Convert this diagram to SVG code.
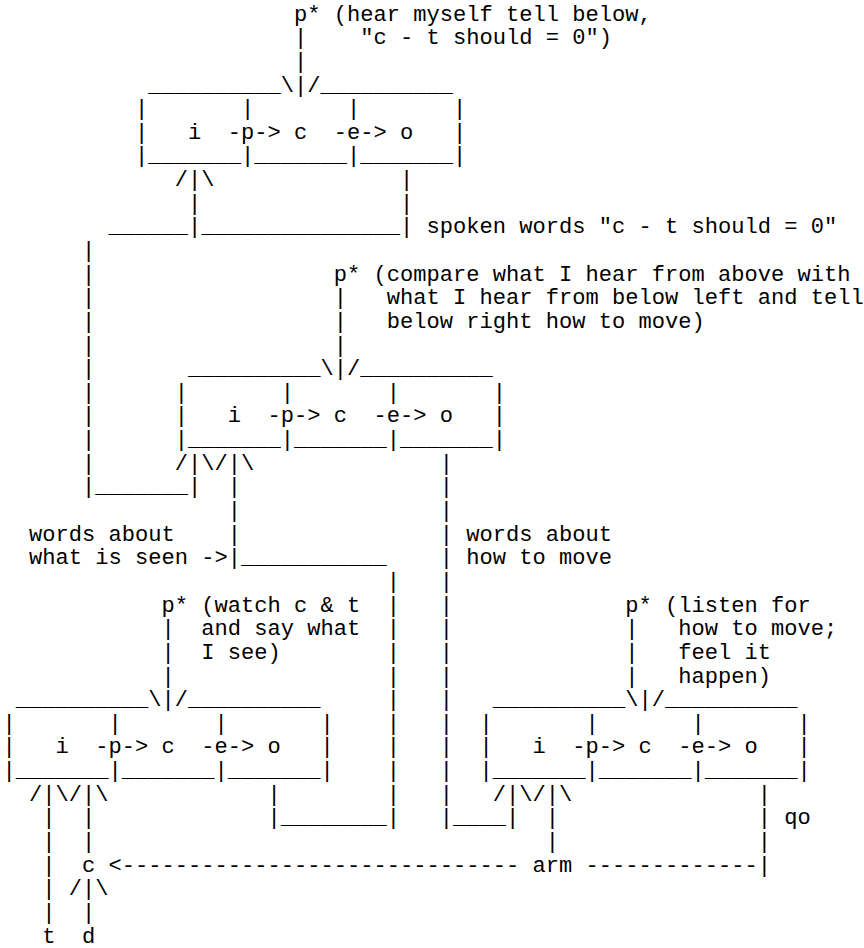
<svg xmlns="http://www.w3.org/2000/svg" width="864" height="948" viewBox="0 0 864 948" xml:space="preserve">
<style>
text { font-family: "Liberation Mono", "DejaVu Sans Mono", monospace; font-size: 22.08px; fill: #000; white-space: pre; }
</style>
<rect width="864" height="948" fill="#fff"/>
<g id="connectors">
<text x="294.1" y="44.24">|</text>
<text x="294.1" y="67.88">|</text>
<text x="280.85" y="91.52">\|/</text>
<text x="174.85" y="186.08">/|\</text><text x="400.1" y="186.08">|</text>
<text x="188.1" y="209.72">|</text><text x="400.1" y="209.72">|</text>
<text x="108.6" y="233.36">______|_______________|</text>
<text x="82.1" y="257">|</text>
<text x="82.1" y="280.64">|</text>
<text x="82.1" y="304.28">|</text><text x="333.85" y="304.28">|</text>
<text x="82.1" y="327.92">|</text><text x="333.85" y="327.92">|</text>
<text x="82.1" y="351.56">|</text><text x="333.85" y="351.56">|</text>
<text x="82.1" y="375.2">|</text><text x="320.6" y="375.2">\|/</text>
<text x="82.1" y="398.84">|</text>
<text x="82.1" y="422.48">|</text>
<text x="82.1" y="446.12">|</text>
<text x="82.1" y="469.76">|</text><text x="174.85" y="469.76">/|\/|\</text><text x="439.85" y="469.76">|</text>
<text x="82.1" y="493.4">|_______|</text><text x="227.85" y="493.4">|</text><text x="439.85" y="493.4">|</text>
<text x="227.85" y="517.04">|</text><text x="439.85" y="517.04">|</text>
<text x="227.85" y="540.68">|</text><text x="439.85" y="540.68">|</text>
<text x="227.85" y="564.32">|___________</text><text x="439.85" y="564.32">|</text>
<text x="386.85" y="587.96">|</text><text x="439.85" y="587.96">|</text>
<text x="386.85" y="611.6">|</text><text x="439.85" y="611.6">|</text>
<text x="161.6" y="635.24">|</text><text x="386.85" y="635.24">|</text><text x="439.85" y="635.24">|</text><text x="625.35" y="635.24">|</text>
<text x="161.6" y="658.88">|</text><text x="386.85" y="658.88">|</text><text x="439.85" y="658.88">|</text><text x="625.35" y="658.88">|</text>
<text x="161.6" y="682.52">|</text><text x="386.85" y="682.52">|</text><text x="439.85" y="682.52">|</text><text x="625.35" y="682.52">|</text>
<text x="148.35" y="706.16">\|/</text><text x="386.85" y="706.16">|</text><text x="439.85" y="706.16">|</text><text x="625.35" y="706.16">\|/</text>
<text x="386.85" y="729.8">|</text><text x="439.85" y="729.8">|</text>
<text x="386.85" y="753.44">|</text><text x="439.85" y="753.44">|</text>
<text x="386.85" y="777.08">|</text><text x="439.85" y="777.08">|</text>
<text x="29.1" y="800.72">/|\/|\</text><text x="267.6" y="800.72">|</text><text x="386.85" y="800.72">|</text><text x="439.85" y="800.72">|</text><text x="492.85" y="800.72">/|\/|\</text><text x="757.85" y="800.72">|</text>
<text x="42.35" y="824.36">|</text><text x="82.1" y="824.36">|</text><text x="267.6" y="824.36">|________|</text><text x="439.85" y="824.36">|____|</text><text x="545.85" y="824.36">|</text><text x="757.85" y="824.36">|</text>
<text x="42.35" y="848">|</text><text x="82.1" y="848">|</text><text x="545.85" y="848">|</text><text x="757.85" y="848">|</text>
<text x="42.35" y="871.64">|</text><text x="108.6" y="871.64">&lt;------------------------------</text><text x="585.6" y="871.64">-------------|</text>
<text x="42.35" y="895.28">|</text><text x="68.85" y="895.28">/|\</text>
<text x="42.35" y="918.92">|</text><text x="82.1" y="918.92">|</text>
</g>
<g id="node-top">
<text x="148.35" y="91.52">__________</text><text x="320.6" y="91.52">__________</text>
<text x="135.1" y="115.16">|       |       |       |</text>
<text x="135.1" y="138.8">|   i  -p-&gt; c  -e-&gt; o   |</text>
<text x="135.1" y="162.44">|_______|_______|_______|</text>
</g>
<g id="node-middle">
<text x="188.1" y="375.2">__________</text><text x="360.35" y="375.2">__________</text>
<text x="174.85" y="398.84">|       |       |       |</text>
<text x="174.85" y="422.48">|   i  -p-&gt; c  -e-&gt; o   |</text>
<text x="174.85" y="446.12">|_______|_______|_______|</text>
</g>
<g id="node-left">
<text x="15.85" y="706.16">__________</text><text x="188.1" y="706.16">__________</text>
<text x="2.6" y="729.8">|       |       |       |</text>
<text x="2.6" y="753.44">|   i  -p-&gt; c  -e-&gt; o   |</text>
<text x="2.6" y="777.08">|_______|_______|_______|</text>
</g>
<g id="node-right">
<text x="492.85" y="706.16">__________</text><text x="665.1" y="706.16">__________</text>
<text x="479.6" y="729.8">|       |       |       |</text>
<text x="479.6" y="753.44">|   i  -p-&gt; c  -e-&gt; o   |</text>
<text x="479.6" y="777.08">|_______|_______|_______|</text>
</g>
<g id="node-c"><text x="82.1" y="871.64">c</text></g>
<g id="node-t"><text x="42.35" y="942.56">t</text></g>
<g id="node-d"><text x="82.1" y="942.56">d</text></g>
<g id="labels">
<text x="294.1" y="20.6">p* (hear myself tell below,</text>
<text x="360.35" y="44.24">"c - t should = 0")</text>
<text x="426.6" y="233.36">spoken words "c - t should = 0"</text>
<text x="333.85" y="280.64">p* (compare what I hear from above with</text>
<text x="386.85" y="304.28">what I hear from below left and tell</text>
<text x="386.85" y="327.92">below right how to move)</text>
<text x="29.1" y="540.68">words about</text><text x="466.35" y="540.68">words about</text>
<text x="29.1" y="564.32">what is seen -&gt;</text><text x="466.35" y="564.32">how to move</text>
<text x="161.6" y="611.6">p* (watch c &amp; t</text><text x="625.35" y="611.6">p* (listen for</text>
<text x="201.35" y="635.24">and say what</text><text x="678.35" y="635.24">how to move;</text>
<text x="201.35" y="658.88">I see)</text><text x="678.35" y="658.88">feel it</text>
<text x="678.35" y="682.52">happen)</text>
<text x="784.35" y="824.36">qo</text>
<text x="532.6" y="871.64">arm</text>
</g>
</svg>
